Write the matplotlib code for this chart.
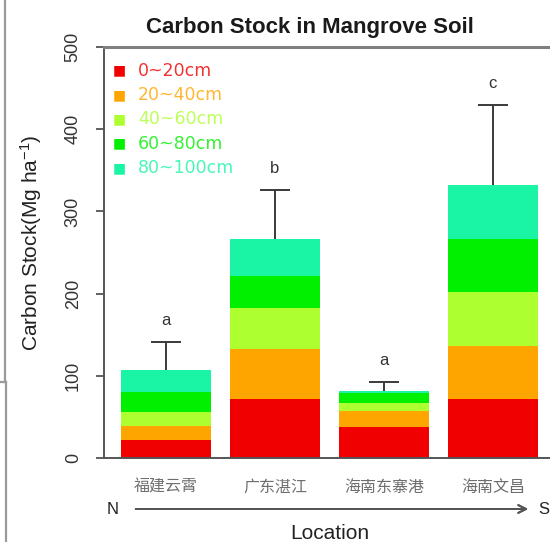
import numpy as np
import matplotlib.pyplot as plt
from matplotlib.lines import Line2D

plt.rcParams["font.family"] = ["Liberation Sans", "DejaVu Sans"]
plt.rcParams["mathtext.fontset"] = "custom"
plt.rcParams["mathtext.rm"] = "Liberation Sans"
plt.rcParams["mathtext.default"] = "regular"

# soil carbon stock per depth layer (Mg ha-1), sites ordered north -> south
sites = ["福建云霄", "广东湛江", "海南东寨港", "海南文昌"]
layers = ["0~20cm", "20~40cm", "40~60cm", "60~80cm", "80~100cm"]
stock_0_20 = [21.5, 71.4, 37.3, 71.4]
stock_20_40 = [17.5, 60.6, 20.2, 64.6]
stock_40_60 = [17.0, 51.0, 9.0, 66.0]
stock_60_80 = [24.0, 38.0, 12.2, 65.0]
stock_80_100 = [26.7, 46.0, 3.2, 65.0]
total_sd = [35.0, 59.0, 11.0, 97.0]
groups = ["a", "b", "a", "c"]

colors = ["#F00000", "#FFA500", "#ADFF2F", "#00F000", "#1AF5A5"]

W, H = 550, 542
fig = plt.figure(figsize=(W / 100, H / 100), dpi=100)
ax = fig.add_axes([104 / W, 84 / H, 451 / W, 411 / H])

x = 0.7 + 1.2 * np.arange(len(sites))
stack = np.array([stock_0_20, stock_20_40, stock_40_60, stock_60_80, stock_80_100])
bottom = np.zeros(len(sites))
for vals, c in zip(stack, colors):
    ax.bar(x, vals, width=1.0, bottom=bottom, color=c, edgecolor="none")
    bottom += vals

# upper-only error bars
err_top = bottom + np.array(total_sd)
ax.vlines(x, bottom, err_top, color="#3a3a3a", lw=1.4)
ax.plot(x, err_top, ls="none", marker="_", ms=22, mew=1.4, color="#3a3a3a")
for xi, top, g in zip(x, err_top, groups):
    ax.text(xi, top + 26, g, ha="center", va="center", fontsize=12, color="#333333")

ax.set_xlim(0.016, 4.984)
ax.set_ylim(0, 500)
ax.set_yticks(np.arange(0, 501, 100))
ax.set_xticks(x)
ax.set_xticklabels(sites, family=["Noto Sans CJK SC"], fontsize=11.5,
                   color="#6e6e6e")
ax.tick_params(axis="x", length=0, pad=15)
ax.tick_params(axis="y", length=6, width=1.3, color="#555555", pad=10,
               labelsize=13, labelcolor="#333333")
for lab in ax.get_yticklabels():
    lab.set_rotation(90)
    lab.set_va("center")

for side in ["left", "bottom", "right"]:
    ax.spines[side].set_color("#555555")
    ax.spines[side].set_linewidth(1.4)
ax.spines["top"].set_color("#808080")
ax.spines["top"].set_linewidth(2.2)

# legend drawn as coloured squares with matching coloured labels
for i, (lab, c) in enumerate(zip(layers, colors)):
    yp = 1 - (70.5 + 24.4 * i) / H
    fig.text(119 / W, yp, "\u25A0", color=c, ha="center", va="center",
             fontsize=10, family="DejaVu Sans")
    fig.text(138 / W, yp, lab, color=c, ha="left", va="center",
             fontsize=12.5, family="DejaVu Sans", alpha=0.8)

fig.text(310 / W, 1 - 33 / H, "Carbon Stock in Mangrove Soil", ha="center",
         va="baseline", fontsize=16, fontweight="bold", color="#1a1a1a")
fig.text(31 / W, 1 - 243 / H, "Carbon Stock(Mg ha$^{-1}$)", rotation=90,
         ha="center", va="center", fontsize=15, color="#222222")
fig.text(330 / W, 1 - 539 / H, "Location", ha="center", va="baseline",
         fontsize=15, color="#222222")

# north-south direction arrow
fig.text(113 / W, 1 - 509 / H, "N", ha="center", va="center", fontsize=12,
         color="#222222")
fig.text(538 / W, 1 - 509 / H, "S", ha="left", va="center", fontsize=12,
         color="#222222")
fig.add_artist(plt.annotate("", xy=(531 / W, 1 - 509 / H),
                            xytext=(133 / W, 1 - 509 / H),
                            xycoords="figure fraction", textcoords="figure fraction",
                            arrowprops=dict(arrowstyle="->", color="#555555",
                                            lw=1.4, mutation_scale=14)))

# left frame edge
frame_kw = dict(transform=fig.transFigure, color="#9a9a9a", lw=1.6)
fig.add_artist(Line2D([4.5 / W, 4.5 / W], [1, 1 - 382 / H], **frame_kw))
fig.add_artist(Line2D([0, 6 / W], [1 - 382 / H, 1 - 382 / H], **frame_kw))
fig.add_artist(Line2D([6 / W, 6 / W], [1 - 382 / H, 0], **frame_kw))

fig.savefig("out.png", dpi=100)
